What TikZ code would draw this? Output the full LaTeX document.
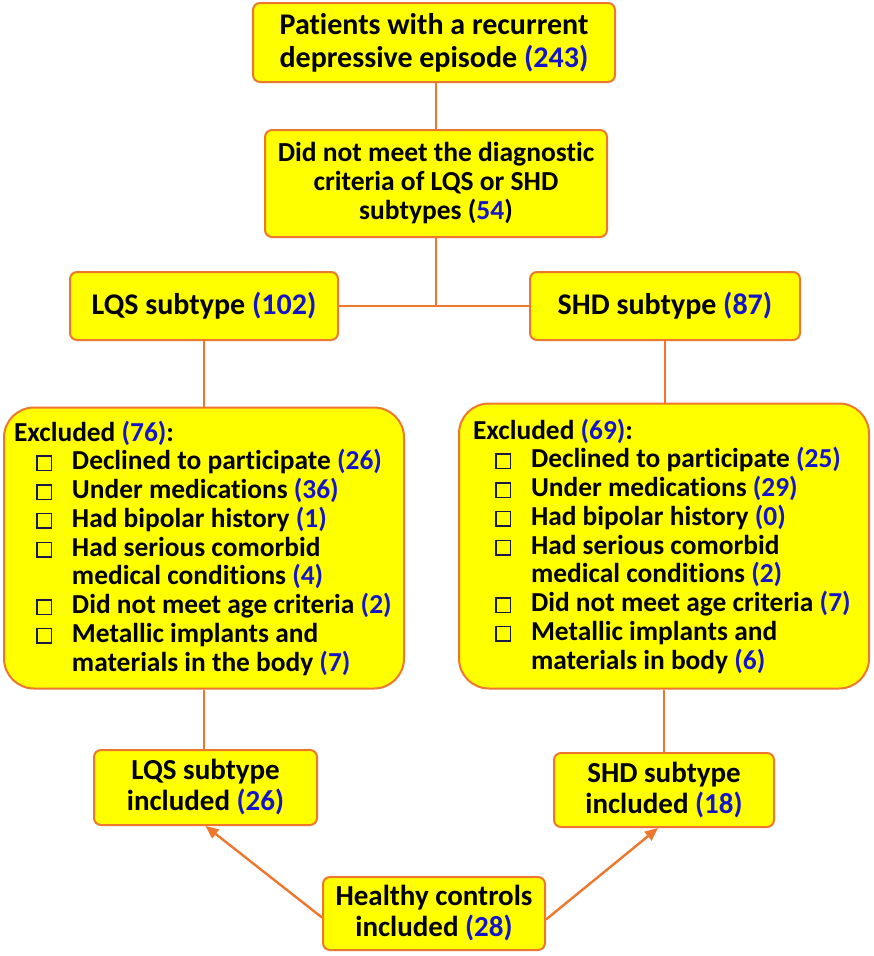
\documentclass[tikz,border=0pt]{standalone}
\usepackage{fontspec}
\setmainfont{Carlito}[Ligatures={NoCommon}]
\usetikzlibrary{arrows.meta}
\definecolor{bfill}{RGB}{255,255,0}
\definecolor{bord}{RGB}{237,120,45}
\definecolor{numb}{RGB}{20,20,200}
\definecolor{cbnavy}{RGB}{25,25,70}
\newcommand\nb[1]{\textcolor{numb}{#1}}
\newcommand\cbx{{\color{cbnavy}\setlength\fboxrule{1.5pt}\setlength\fboxsep{0pt}\fbox{\phantom{\rule{13pt}{13pt}}}}}
\newcommand\itm{\makebox[58pt][l]{\hspace*{22pt}\cbx}}
\newcommand\ind{\hspace*{58pt}}
\begin{document}
\begin{tikzpicture}[x=1pt,y=-1pt,
  flowbox/.style={draw=bord,line width=2pt,fill=bfill,rounded corners=7pt,align=center,inner sep=0pt},
  exbox/.style={draw=bord,line width=2pt,fill=bfill,rounded corners=30pt,align=left,inner sep=0pt},
  big/.style={font=\fontsize{30}{33}\selectfont\bfseries},
  mid/.style={font=\fontsize{27.5}{29}\selectfont\bfseries},
  one/.style={font=\fontsize{30}{33}\selectfont\bfseries},
  bot/.style={font=\fontsize{29}{31}\selectfont\bfseries},
  small/.style={font=\fontsize{27.4}{28.75}\selectfont\bfseries},
  conn/.style={draw=bord,line width=2.4pt},
  arr/.style={conn,-{Triangle[length=13pt,width=11pt]}}]
\useasboundingbox (0,0) rectangle (874,956);

\node[flowbox,big,minimum width=362pt,minimum height=79pt] (top) at (434,42.5)
  {Patients with a recurrent\\depressive episode \nb{(243)}};
\node[flowbox,mid,minimum width=342pt,minimum height=107pt] (dnm) at (436,183.5)
  {Did not meet the diagnostic\\criteria of LQS or SHD\\subtypes (\nb{54})};
\node[flowbox,one,minimum width=268pt,minimum height=68pt] (lqs) at (204,306)
  {LQS subtype \nb{(102)}};
\node[flowbox,one,minimum width=270pt,minimum height=68pt] (shd) at (665,306)
  {SHD subtype \nb{(87)}};

\node[exbox,small,minimum width=400pt,minimum height=281pt] (exl) at (204,548)
  {\makebox[380pt][l]{Excluded \nb{(76)}:}\\
   \itm Declined to participate \nb{(26)}\\
   \itm Under medications \nb{(36)}\\
   \itm Had bipolar history \nb{(1)}\\
   \itm Had serious comorbid\\
   \ind medical conditions \nb{(4)}\\
   \itm Did not meet age criteria \nb{(2)}\\
   \itm Metallic implants and\\
   \ind materials in the body \nb{(7)}};
\node[exbox,small,minimum width=410pt,minimum height=285pt] (exr) at (664,546)
  {\makebox[382pt][l]{Excluded \nb{(69)}:}\\
   \itm Declined to participate \nb{(25)}\\
   \itm Under medications \nb{(29)}\\
   \itm Had bipolar history \nb{(0)}\\
   \itm Had serious comorbid\\
   \ind medical conditions \nb{(2)}\\
   \itm Did not meet age criteria \nb{(7)}\\
   \itm Metallic implants and\\
   \ind materials in body \nb{(6)}};

\node[flowbox,bot,minimum width=223pt,minimum height=75pt] (lqsi) at (205.5,787.5)
  {LQS subtype\\included \nb{(26)}};
\node[flowbox,bot,minimum width=220pt,minimum height=74pt] (shdi) at (664,790)
  {SHD subtype\\included \nb{(18)}};
\node[flowbox,bot,minimum width=222pt,minimum height=73pt] (hc) at (434,913.5)
  {Healthy controls\\included \nb{(28)}};

\coordinate (j) at (436,305);
\draw[conn] (top.south -| dnm.north) -- (dnm.north);
\draw[conn] (dnm.south) -- (j);
\draw[conn] (lqs.east) -- (shd.west);
\draw[conn] (exl.north) -- (exl.north |- lqs.south);
\draw[conn] (shd.south) -- (shd.south |- exr.north);
\draw[conn] (exl.south) -- (exl.south |- lqsi.north);
\draw[conn] (exr.south) -- (exr.south |- shdi.north);
\draw[arr] ([yshift=-4pt]hc.west) -- (lqsi.south);
\draw[arr] ([yshift=-6pt]hc.east) -- ([xshift=-6pt]shdi.south);
\end{tikzpicture}
\end{document}
